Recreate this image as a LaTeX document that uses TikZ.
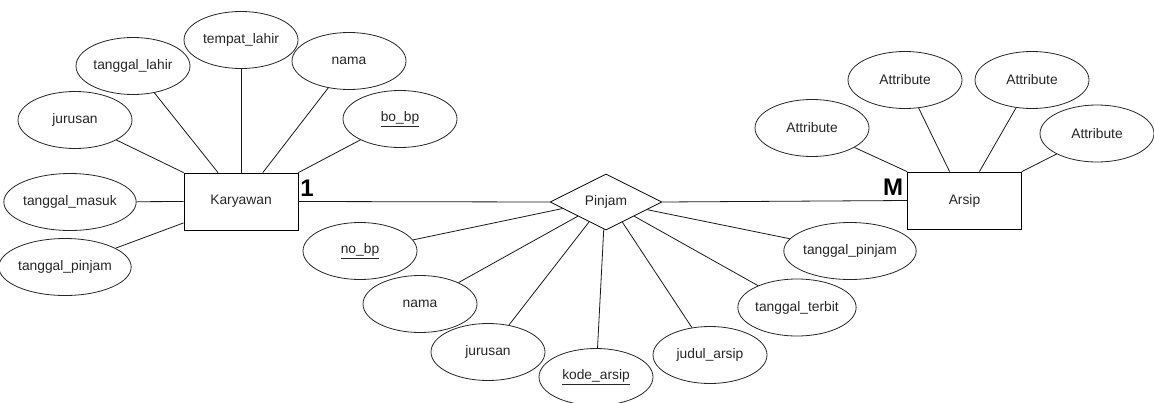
\documentclass[tikz,border=0pt]{standalone}
\usepackage{fontspec}
\setmainfont{Liberation Sans}
\usetikzlibrary{shapes.geometric,calc}
\begin{document}
\begin{tikzpicture}[x=1pt,y=-1pt,
  attr/.style={ellipse,draw=black!85,line width=0.8pt,minimum width=114pt,minimum height=57pt,inner sep=0pt,font=\fontsize{13.8}{15}\selectfont,text=black!85},
  ent/.style={rectangle,draw=black,line width=0.8pt,minimum width=114pt,minimum height=57pt,inner sep=0pt,font=\fontsize{13.8}{15}\selectfont,text=black!85},
  rel/.style={diamond,draw=black,line width=0.8pt,aspect=2,minimum width=112pt,minimum height=56pt,inner sep=0pt,font=\fontsize{13.8}{15}\selectfont,text=black!85},
  card/.style={inner sep=0pt,font=\fontsize{24}{28}\selectfont\bfseries},
  conn/.style={line width=0.8pt,draw=black!90}]
\useasboundingbox (0,0) rectangle (1154,402);
\clip (0,0) rectangle (1154,402);

% entities and relationship
\node[ent] (kar) at (241,201.5) {Karyawan};
\node[rel] (pin) at (606,202) {Pinjam};
\node[ent] (ars) at (964.5,200.5) {Arsip};

% Karyawan attributes
\node[attr] (ktempat) at (241,40) {tempat\_lahir};
\node[attr] (ktgllahir) at (133,66) {tanggal\_lahir};
\node[attr] (knama) at (349,61) {nama};
\node[attr] (kjurusan) at (75,120) {jurusan};
\node[attr] (kbobp) at (400,119) {\underline{bo\_bp}};
\node[attr] (kmasuk) at (70,202) {tanggal\_masuk};
\node[attr] (kpinjam) at (65,267) {tanggal\_pinjam};

% Pinjam attributes
\node[attr] (pnobp) at (360,251) {\underline{no\_bp}};
\node[attr] (pnama) at (420,304) {nama};
\node[attr] (pjurusan) at (488,352) {jurusan};
\node[attr] (pkode) at (596,377) {\underline{kode\_arsip}};
\node[attr] (pjudul) at (710,355) {judul\_arsip};
\node[attr] (pterbit) at (797,307.5) {tanggal\_terbit};
\node[attr] (ptglpinjam) at (850,251) {tanggal\_pinjam};

% Arsip attributes
\node[attr] (a1) at (812,128) {Attribute};
\node[attr] (a2) at (905,80) {Attribute};
\node[attr] (a3) at (1032,80) {Attribute};
\node[attr] (a4) at (1097,133.5) {Attribute};

% cardinalities
\node[card] (one) at (307,188) {1};
\node[card] (many) at (893,187) {M};

% Karyawan connectors
\draw[conn] (kjurusan) -- (kar.north west);
\draw[conn] (ktgllahir) -- ($(kar.north west)!0.3!(kar.north east)$);
\draw[conn] (ktempat) -- (kar.north);
\draw[conn] (knama) -- ($(kar.north west)!0.69!(kar.north east)$);
\draw[conn] (kbobp) -- (kar.north east);
\draw[conn] (kmasuk) -- (kar.west);
\draw[conn] (kpinjam) -- ($(kar.north west)!0.87!(kar.south west)$);

% relationship connectors
\draw[conn] (kar.east) -- (pin.west);
\draw[conn] (pin.east) -- (ars.west);

% Pinjam attribute connectors
\draw[conn] (pnobp) -- ($(pin.west)!0.23!(pin.south)$);
\draw[conn] (pnama) -- ($(pin.west)!0.5!(pin.south)$);
\draw[conn] (pjurusan) -- ($(pin.west)!0.7!(pin.south)$);
\draw[conn] (pkode) -- ($(pin.west)!0.96!(pin.south)$);
\draw[conn] (pjudul) -- ($(pin.east)!0.71!(pin.south)$);
\draw[conn] (pterbit) -- ($(pin.east)!0.5!(pin.south)$);
\draw[conn] (ptglpinjam) -- ($(pin.east)!0.27!(pin.south)$);

% Arsip attribute connectors
\draw[conn] (a1) -- (ars.north west);
\draw[conn] (a2) -- ($(ars.north west)!0.37!(ars.north east)$);
\draw[conn] (a3) -- ($(ars.north west)!0.63!(ars.north east)$);
\draw[conn] (a4) -- (ars.north east);
\end{tikzpicture}
\end{document}
